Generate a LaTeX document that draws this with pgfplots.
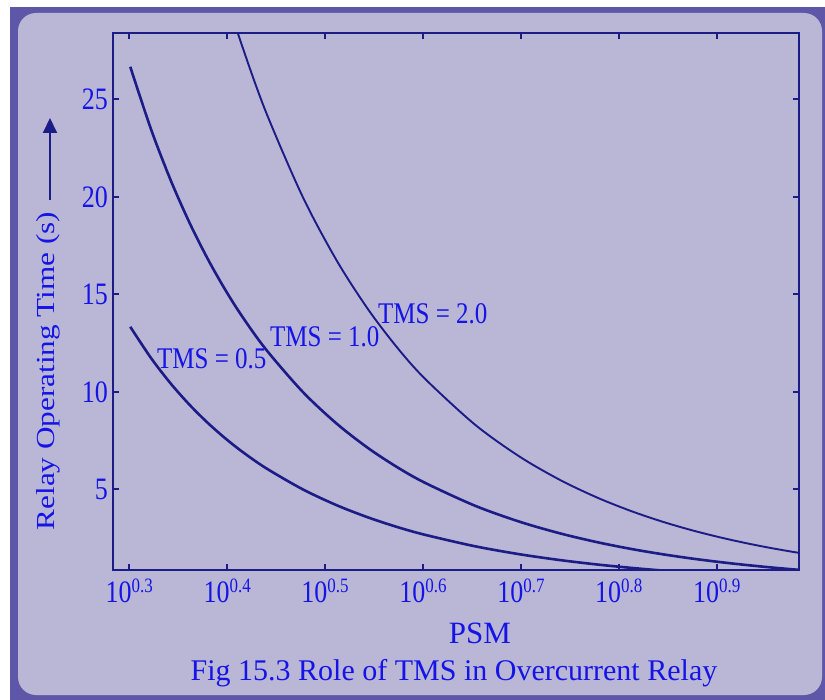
\documentclass[border=0pt]{standalone}
\usepackage{pgfplots}
\pgfplotsset{compat=1.18}
\usepackage{fontspec}
\setmainfont{Liberation Serif}
\usetikzlibrary{arrows.meta}
\definecolor{frame}{HTML}{5E56A6}
\definecolor{panel}{HTML}{BAB6D6}
\definecolor{curve}{HTML}{1C1C86}
\definecolor{txt}{HTML}{1414E6}
% the source bitmap fonts are taller than Liberation Serif
\newcommand{\vs}[1]{\scalebox{1}[1.2]{#1}}
\newcommand{\xt}[1]{\vs{10\raisebox{8.5pt}{\fontsize{17}{17}\selectfont #1}}}

\begin{document}
\begin{tikzpicture}
% background frame
\fill[white] (0pt,0pt) rectangle (825pt,-700pt);
\fill[frame] (10pt,-7pt) rectangle (825pt,-700pt);
\fill[panel, rounded corners=18pt] (18pt,-13pt) rectangle (822pt,-695pt);

\begin{axis}[
  at={(113.3pt,-570pt)}, anchor=south west,
  scale only axis, width=686pt, height=536.7pt,
  xmode=log, xmin=1.9219, xmax=9.647,
  ymin=0.862, ymax=28.385,
  xtick={1.99526,2.51189,3.16228,3.98107,5.01187,6.30957,7.94328},
  xticklabels={\xt{0.3},\xt{0.4},\xt{0.5},\xt{0.6},\xt{0.7},\xt{0.8},\xt{0.9}},
  minor xtick={},
  ytick={5,10,15,20,25},
  yticklabels={\vs{5},\vs{10},\vs{15},\vs{20},\vs{25}},
  tick align=inside, major tick length=6pt,
  every tick/.style={curve, line width=1.8pt},
  axis line style={curve, line width=1.8pt},
  ticklabel style={text=txt, font=\fontsize{26}{30}\selectfont},
  xticklabel style={yshift=-5pt},
  yticklabel style={xshift=-2pt},
]
% TMS = 0.5
\addplot[curve, line width=2.6pt, smooth] coordinates {
(2,13.333) (2.1,11.730) (2.2,10.417) (2.3,9.324) (2.4,8.403) (2.5,7.619)
(2.6,6.944) (2.75,6.095) (3,5.000) (3.25,4.183) (3.5,3.556) (3.75,3.062)
(4,2.667) (4.5,2.078) (5,1.667) (5.5,1.368) (6,1.143) (6.5,0.970)
(7,0.833) (7.5,0.724) (8,0.635) (8.5,0.561) (9,0.500) (9.5,0.448) (10,0.404)};
% TMS = 1.0
\addplot[curve, line width=2.6pt, smooth] coordinates {
(2,26.667) (2.1,23.460) (2.2,20.833) (2.3,18.648) (2.4,16.807) (2.5,15.238)
(2.6,13.889) (2.75,12.190) (3,10.000) (3.25,8.366) (3.5,7.111) (3.75,6.124)
(4,5.333) (4.5,4.156) (5,3.333) (5.5,2.735) (6,2.286) (6.5,1.939)
(7,1.667) (7.5,1.448) (8,1.270) (8.5,1.123) (9,1.000) (9.5,0.896) (10,0.808)};
% TMS = 2.0
\addplot[curve, line width=1.9pt, smooth] coordinates {
(2.4,33.613) (2.5,30.476) (2.6,27.778) (2.75,24.381) (3,20.000) (3.25,16.732)
(3.5,14.222) (3.75,12.249) (4,10.667) (4.5,8.312) (5,6.667) (5.5,5.470)
(6,4.571) (6.5,3.879) (7,3.333) (7.5,2.896) (8,2.540) (8.5,2.246)
(9,2.000) (9.5,1.793) (10,1.616)};
\end{axis}

% curve labels
\node[anchor=base west, inner sep=0pt, text=txt, font=\fontsize{25}{30}\selectfont] at (157pt,-369pt) {\vs{TMS = 0.5}};
\node[anchor=base west, inner sep=0pt, text=txt, font=\fontsize{25}{30}\selectfont] at (270pt,-347pt) {\vs{TMS = 1.0}};
\node[anchor=base west, inner sep=0pt, text=txt, font=\fontsize{25}{30}\selectfont] at (378pt,-324pt) {\vs{TMS = 2.0}};

% y label with arrow
\node[rotate=90, text=txt, font=\fontsize{26}{30}\selectfont] at (48pt,-371pt) {\scalebox{1.2}[1]{Relay Operating Time (s)}};
\draw[color=curve, line width=2pt, -{Triangle[length=15pt,width=14pt]}] (50pt,-200pt) -- (50pt,-118pt);

% x label and caption
\node[anchor=base, inner sep=0pt, text=txt, font=\fontsize{31}{34}\selectfont] at (480pt,-643pt) {PSM};
\node[anchor=base, inner sep=0pt, text=txt, font=\fontsize{30}{34}\selectfont] at (454pt,-680pt) {Fig 15.3 Role of TMS in Overcurrent Relay};
\end{tikzpicture}
\end{document}
